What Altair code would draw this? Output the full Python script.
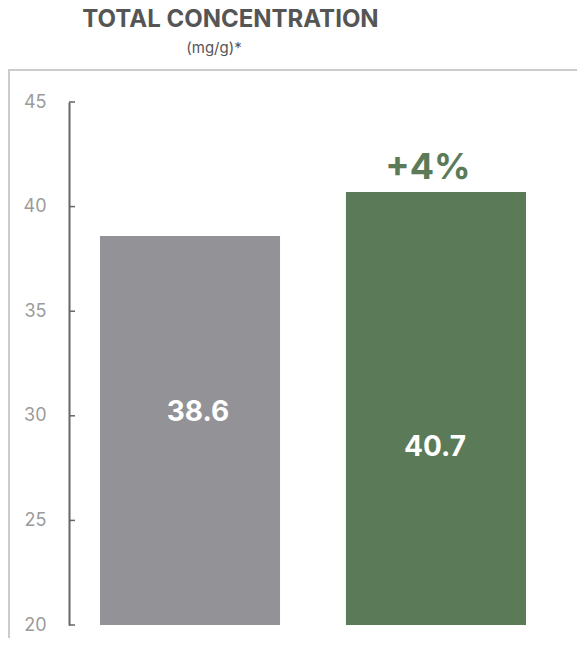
import altair as alt
import pandas as pd

# ---- data ----
categories = ["Reference", "Treated"]
values = [38.6, 40.7]
change_labels = ["", "+4%"]
bar_colors = ["#939397", "#5b7a57"]
tick_values = [20, 25, 30, 35, 40, 45]
title_text = "TOTAL CONCENTRATION"
subtitle_text = "(mg/g)*"

df = pd.DataFrame({"cat": categories, "val": values, "chg": change_labels})
df["base"] = 20
df["mid"] = (df["base"] + df["val"]) / 2

W, H = 569, 568
FONT = "Inter"

xscale = alt.Scale(domain=categories, range=[61, 549], paddingInner=0.268, paddingOuter=0.126)
yscale = alt.Scale(domain=[20, 45], range=[555, 32], zero=False, nice=False)
yaxis = alt.Axis(values=tick_values, offset=-61, ticks=False, tickSize=0,
                 domain=True, domainColor="#666666", domainWidth=2,
                 grid=False, labelFont=FONT, labelFontSize=18,
                 labelColor="#9b9b9b", labelPadding=23, title=None)
xenc = alt.X("cat:N", scale=xscale, axis=None, sort=categories)

base = alt.Chart(df)

bars = base.mark_bar().encode(
    x=xenc,
    y=alt.Y("val:Q", scale=yscale, axis=yaxis),
    y2=alt.Y2("base:Q"),
    color=alt.Color("cat:N", scale=alt.Scale(domain=categories, range=bar_colors), legend=None),
)

ticks = alt.Chart(pd.DataFrame({"v": tick_values})).mark_rule(
    color="#666666", strokeWidth=1.5
).encode(
    y=alt.Y("v:Q", scale=yscale, axis=yaxis),
    x=alt.value(61), x2=alt.value(67),
)

lab_gray = base.transform_filter(alt.datum.cat == categories[0]).mark_text(
    color="white", font=FONT, fontSize=28, fontWeight="bold", baseline="alphabetic", dy=-9, dx=8
).encode(
    x=xenc,
    y=alt.Y("mid:Q", scale=yscale, axis=yaxis),
    text=alt.Text("val:Q", format=".1f"),
)

lab_green = base.transform_filter(alt.datum.cat == categories[1]).mark_text(
    color="white", font=FONT, fontSize=28, fontWeight="bold", baseline="alphabetic", dy=48, dx=-1
).encode(
    x=xenc,
    y=alt.Y("mid:Q", scale=yscale, axis=yaxis),
    text=alt.Text("val:Q", format=".1f"),
)

chg = base.transform_filter(alt.datum.chg != "").mark_text(
    color="#5b7a57", font=FONT, fontSize=36, fontWeight="bold", baseline="alphabetic", dy=-13, dx=-8
).encode(
    x=xenc,
    y=alt.Y("val:Q", scale=yscale, axis=yaxis),
    text="chg:N",
)

one = pd.DataFrame({"t": [title_text], "s": [subtitle_text]})
title = alt.Chart(one).mark_text(
    font=FONT, fontSize=24, fontWeight="bold", color="#555555", baseline="alphabetic", align="center"
).encode(text="t:N", x=alt.value(222.5), y=alt.value(-43))
subtitle = alt.Chart(one).mark_text(
    font=FONT, fontSize=15, color="#555555", baseline="alphabetic", align="center"
).encode(text="s:N", x=alt.value(206), y=alt.value(-17))

border_left = alt.Chart(one).mark_rule(color="#cccccc", strokeWidth=2).encode(
    x=alt.value(1), y=alt.value(0), y2=alt.value(H))
border_top = alt.Chart(one).mark_rule(color="#cccccc", strokeWidth=2).encode(
    x=alt.value(0), x2=alt.value(W), y=alt.value(0))

chart = alt.layer(
    border_left, border_top, bars, ticks, lab_gray, lab_green, chg, title, subtitle
).properties(
    width=W, height=H,
    autosize=alt.AutoSizeParams(type="none"),
    padding={"left": 0, "top": 62, "right": 0, "bottom": 0},
    background="white",
).configure_view(stroke=None)

chart.save("out.html", embed_options={"renderer": "svg", "actions": False})
